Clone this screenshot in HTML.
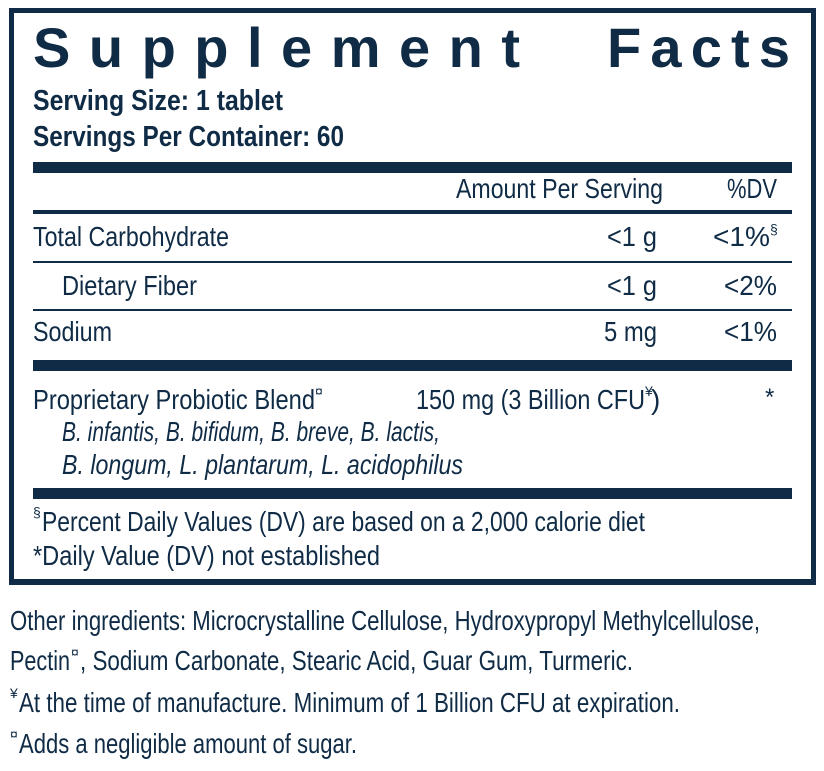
<!DOCTYPE html>
<html><head><meta charset="utf-8"><style>
html,body{margin:0;padding:0;background:#fff;}
svg{display:block;}
text{font-family:"Liberation Sans",sans-serif;fill:#0f2b45;}
.b{font-weight:bold;}
.i{font-style:italic;}
</style></head><body>
<svg width="824" height="771" viewBox="0 0 824 771" xmlns="http://www.w3.org/2000/svg">
<g fill="#0f2b45">
<rect x="9" y="8" width="807" height="5"/>
<rect x="9" y="8" width="5" height="577"/>
<rect x="811" y="8" width="5" height="577"/>
<rect x="9" y="579" width="807" height="6"/>
<rect x="33" y="162" width="759" height="11"/>
<rect x="33" y="210" width="759" height="4"/>
<rect x="33" y="261" width="759" height="2"/>
<rect x="33" y="309" width="759" height="2"/>
<rect x="33" y="360" width="759" height="11"/>
<rect x="33" y="488" width="759" height="11"/>
</g>
<text class="b" x="33" y="67" font-size="56" textLength="487" lengthAdjust="spacing">Supplement</text>
<text class="b" x="607" y="67" font-size="56" textLength="183" lengthAdjust="spacing">Facts</text>
<text class="b" x="33" y="110" font-size="29" textLength="250" lengthAdjust="spacingAndGlyphs">Serving Size: 1 tablet</text>
<text class="b" x="33" y="146" font-size="29" textLength="311" lengthAdjust="spacingAndGlyphs">Servings Per Container: 60</text>
<text x="456" y="198" font-size="28" textLength="207" lengthAdjust="spacingAndGlyphs">Amount Per Serving</text>
<text x="727" y="198" font-size="28" textLength="50" lengthAdjust="spacingAndGlyphs">%DV</text>
<text x="33" y="246" font-size="28" textLength="196" lengthAdjust="spacingAndGlyphs">Total Carbohydrate</text>
<text x="607" y="246" font-size="28" textLength="50" lengthAdjust="spacingAndGlyphs">&lt;1 g</text>
<text x="713" y="246" font-size="28" textLength="57" lengthAdjust="spacingAndGlyphs">&lt;1%</text>
<text x="770" y="234" font-size="14">§</text>
<text x="62" y="295" font-size="28" textLength="135" lengthAdjust="spacingAndGlyphs">Dietary Fiber</text>
<text x="607" y="295" font-size="28" textLength="50" lengthAdjust="spacingAndGlyphs">&lt;1 g</text>
<text x="724" y="295" font-size="28" textLength="53" lengthAdjust="spacingAndGlyphs">&lt;2%</text>
<text x="33" y="341" font-size="28" textLength="79" lengthAdjust="spacingAndGlyphs">Sodium</text>
<text x="604" y="341" font-size="28" textLength="53" lengthAdjust="spacingAndGlyphs">5 mg</text>
<text x="724" y="341" font-size="28" textLength="53" lengthAdjust="spacingAndGlyphs">&lt;1%</text>
<text x="33" y="409" font-size="28" textLength="282" lengthAdjust="spacingAndGlyphs">Proprietary Probiotic Blend</text>
<text x="315" y="396" font-size="14">¤</text>
<text x="416" y="409" font-size="28" textLength="229" lengthAdjust="spacingAndGlyphs">150 mg (3 Billion CFU</text>
<text x="645" y="396" font-size="14">¥</text>
<text x="651" y="409" font-size="28">)</text>
<text x="765" y="405" font-size="24">*</text>
<text class="i" x="62" y="441" font-size="28" textLength="378" lengthAdjust="spacingAndGlyphs">B. infantis, B. bifidum, B. breve, B. lactis,</text>
<text class="i" x="62" y="474" font-size="28" textLength="401" lengthAdjust="spacingAndGlyphs">B. longum, L. plantarum, L. acidophilus</text>
<text x="33" y="517" font-size="14">§</text>
<text x="42" y="531" font-size="28" textLength="603" lengthAdjust="spacingAndGlyphs">Percent Daily Values (DV) are based on a 2,000 calorie diet</text>
<text x="33" y="565" font-size="28" textLength="347" lengthAdjust="spacingAndGlyphs">*Daily Value (DV) not established</text>
<text x="10" y="630" font-size="28" textLength="750" lengthAdjust="spacingAndGlyphs">Other ingredients: Microcrystalline Cellulose, Hydroxypropyl Methylcellulose,</text>
<text x="10" y="670" font-size="28" textLength="60" lengthAdjust="spacingAndGlyphs">Pectin</text>
<text x="71" y="657" font-size="14">¤</text>
<text x="80" y="670" font-size="28" textLength="553" lengthAdjust="spacingAndGlyphs">, Sodium Carbonate, Stearic Acid, Guar Gum, Turmeric.</text>
<text x="10" y="698" font-size="14">¥</text>
<text x="19" y="712" font-size="28" textLength="661" lengthAdjust="spacingAndGlyphs">At the time of manufacture. Minimum of 1 Billion CFU at expiration.</text>
<text x="10" y="739" font-size="14">¤</text>
<text x="19" y="753" font-size="28" textLength="338" lengthAdjust="spacingAndGlyphs">Adds a negligible amount of sugar.</text>
</svg>
</body></html>
